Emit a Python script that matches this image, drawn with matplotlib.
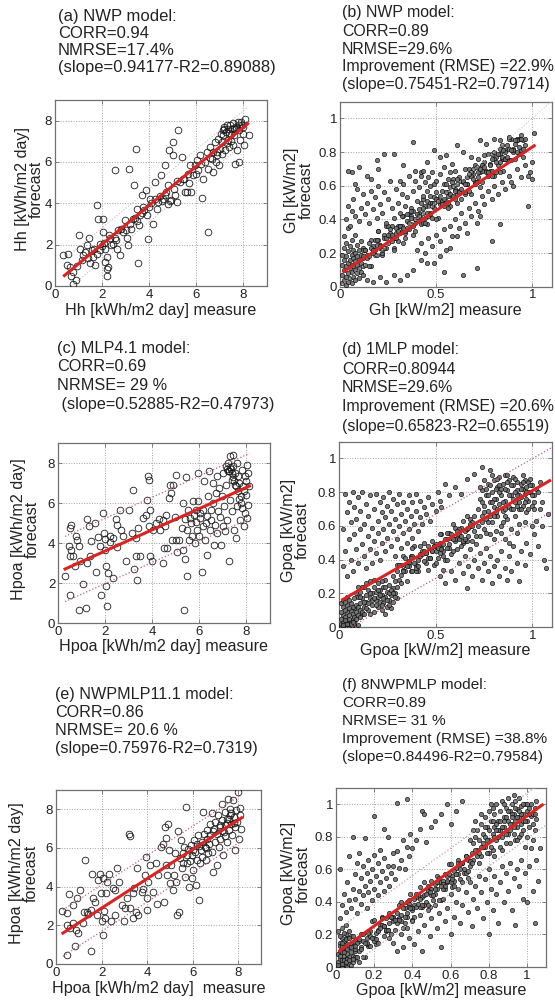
import numpy as np
import matplotlib.pyplot as plt
from matplotlib.ticker import FormatStrFormatter

plt.rcParams['font.family'] = ['Liberation Sans', 'DejaVu Sans']

# ----------------------------
# Data
# ----------------------------

# (a) NWP model, daily horizontal irradiation (measure, forecast) [kWh/m2 day]
a_pts = [(0.35,1.48),(0.57,1.56),(0.5,1.0),(0.64,0.92),(0.7,0.5),(0.78,0.1),(0.9,0.27),(0.78,0.68),
         (1.04,2.48),(1.06,1.8),(1.13,1.24),(1.28,1.65),(1.35,1.97),(1.46,2.32),(1.56,1.73),(1.63,1.4),
         (1.7,1.0),(1.77,3.9),(1.84,3.26),(2.03,3.26),(1.91,2.05),(2.06,2.6),(2.13,1.8),(2.2,1.4),
         (2.13,1.16),(2.2,0.84),(2.23,0.5),(2.27,0.92),(2.34,2.3),(2.4,1.97),(2.55,5.6),(2.55,2.3),
         (2.62,1.8),(2.77,1.48),(2.7,2.7),(2.9,2.6),(2.98,3.18),(3.05,2.3),(3.12,1.97),(3.16,5.68),
         (3.22,2.77),(3.3,3.26),(3.36,4.87),(3.45,6.61),(3.48,3.74),(3.55,1.11),(3.59,2.94),(3.62,3.42),
         (3.69,4.39),(3.76,3.82),(3.87,4.63),(3.93,3.42),(3.97,2.29),(4.04,4.23),(4.18,3.02),(4.26,5.03),
         (4.33,3.74),(4.4,4.06),(4.5,5.35),(4.61,4.23),(4.68,5.84),(4.72,4.55),(4.79,4.87),(4.82,3.98),
         (4.87,6.56),(4.92,4.15),(5.0,6.32),(5.04,6.97),(5.11,4.39),(5.18,4.06),(5.22,7.53),(5.32,5.03),
         (5.39,6.24),(5.46,5.19),(5.53,4.55),(5.6,4.55),(5.67,5.43),(5.74,5.84),(5.8,4.55),(5.89,5.35),
         (5.96,5.84),(6.03,6.08),(6.1,5.6),(6.17,6.32),(6.27,4.26),(6.31,5.19),(6.38,6.0),(6.45,6.48),
         (6.5,2.6),(6.52,5.68),(6.6,6.73),(6.67,6.16),(6.71,5.52),(6.74,6.48),(6.81,6.97),(6.85,6.0),
         (6.91,6.32),(6.95,7.13),(6.99,5.84),(7.02,6.65),(7.06,7.37),(7.09,6.97),(7.13,7.53),(7.16,7.29),
         (7.19,7.69),(7.23,6.56),(7.28,7.45),(7.3,7.77),(7.35,7.05),(7.38,7.61),(7.42,6.73),(7.45,7.77),
         (7.48,7.37),(7.52,7.61),(7.56,6.81),(7.59,7.9),(7.63,7.29),(7.66,5.92),(7.7,7.69),(7.73,6.56),
         (7.77,7.94),(7.82,7.53),(7.84,6.0),(7.87,7.05),(7.91,7.94),(7.94,7.77),(7.99,7.37),(8.04,6.81),
         (8.09,8.1),(8.27,7.29),(1.5,1.1),(1.9,1.75),(2.45,2.05),(2.6,2.25),(2.8,2.75),(3.0,2.7),
         (3.2,3.0),(3.4,3.3),(3.5,3.15),(3.7,3.55),(3.8,3.7),(4.0,3.8),(4.1,4.0),(4.25,4.2),(4.45,4.35),
         (4.55,4.1),(4.7,4.4),(4.9,4.1),(5.05,4.7),(5.2,5.1),(5.5,5.2),(5.7,5.0),(6.0,5.4),(6.2,5.9),
         (6.6,6.2),(6.9,6.5),(7.1,6.4),(7.3,6.9),(7.5,7.0),(7.7,7.6),(7.85,7.8),(8.0,7.7),(7.4,7.4),
         (7.2,7.6),(7.6,7.65),(0.95,0.95),(1.2,1.5),(1.4,1.35),(1.65,1.8),(1.8,1.55),(2.0,1.95),
         (2.1,2.1),(2.3,2.45)]

# (b) NWP model, hourly Gh [kW/m2], values in hundredths
b_pts = [(1,2),(1,7),(1,13),(1,19),(2,4),(2,10),(2,16),(2,23),(2,30),(3,1),(3,6),(3,12),(3,18),(3,26),
         (4,3),(4,8),(4,14),(4,21),(4,35),(5,5),(5,11),(5,16),(5,24),(6,2),(6,9),(6,13),(6,19),(6,28),
         (7,6),(7,12),(7,17),(7,22),(8,4),(8,10),(8,15),(8,20),(8,31),(9,8),(9,13),(9,18),(9,25),(10,5),
         (10,11),(10,16),(10,22),(11,9),(11,14),(11,19),(11,27),(12,7),(12,12),(12,17),(12,23),
         (13,13),(13,22),(14,19),(16,28),(16,12),(17,24),(18,28),(18,19),(20,33),(21,23),(21,25),(22,19),
         (23,31),(24,36),(24,23),(26,30),(27,27),(27,36),(28,23),(30,36),(30,27),(31,36),(32,33),(33,42),
         (33,26),(35,39),(36,43),(36,34),(37,47),(38,37),(39,40),(39,33),(41,46),(42,50),(42,37),(43,44),
         (44,41),(45,51),(45,37),(47,50),(48,41),(48,50),(49,47),(50,56),(51,41),(51,52),(53,57),(54,48),
         (54,61),(55,51),(56,54),(57,48),(57,59),(59,64),(60,52),(60,58),(61,55),(62,65),(63,52),(63,63),
         (65,55),(66,65),(66,61),(67,70),(68,55),(69,67),(69,70),(71,62),(72,76),(72,65),(73,68),(74,62),
         (75,74),(75,78),(77,66),(78,73),(78,69),(79,79),(80,66),(81,77),(81,68),(83,79),(84,76),(84,84),
         (85,69),(86,81),(87,84),(87,75),(89,88),(90,80),(90,82),(91,76),(92,87),(93,88),(93,79),(95,87),
         (96,84),
         (12,22),(15,12),(15,26),(17,20),(19,25),(19,19),(20,33),(22,20),(23,29),(25,36),(25,26),(26,34),
         (28,22),(29,32),(29,35),(31,32),(32,42),(34,32),(34,29),(35,43),(37,42),(38,31),(38,45),(40,39),
         (41,43),(43,38),(43,52),(44,38),(46,48),(47,54),(47,44),(49,53),(50,40),(52,51),(52,54),(53,51),
         (55,61),(56,50),(56,47),(58,62),(59,60),(61,50),(61,64),(62,57),(64,62),(65,56),(65,70),(67,57),
         (68,66),(70,72),(70,62),(71,71),(73,59),(74,69),(74,72),(76,69),(77,79),(79,69),(79,66),(80,80),
         (82,79),(83,68),(83,82),(85,76),(86,80),(88,75),(88,88),(89,75),(91,85),(92,88),(92,80),(94,88),
         (95,77),
         (4,69),(6,68),(10,71),(8,61),(14,66),(16,64),(19,75),(20,70),(23,79),(28,79),(31,63),(33,72),
         (38,86),(39,69),(42,68),(43,69),(45,74),(49,81),(49,61),(52,77),(55,78),(57,68),(61,84),(64,80),
         (68,77),(73,87),(76,85),(80,88),(83,87),(88,89),(92,87),(94,90),(101,91),(99,68),(100,64),
         (98,48),(89,62),(83,37),(79,27),(71,11),(64,7),(54,9),(61,30),(66,32),(71,38),(73,42),(57,23),
         (52,18),(49,14),(45,14),(42,16),(38,10),(35,7),(31,4),(28,7),(24,3),(21,6),(17,3),(14,4),
         (3,40),(4,48),(5,36),(6,45),(7,52),(8,42),(9,58),(10,39),(11,47),(12,55),(13,43),(14,50),(15,38),
         (16,57),(17,46),(18,53),(19,41),(20,60),(21,49),(22,44),(23,56),(24,38),(25,52),(26,63),(27,47),
         (28,41),(29,58),(30,50),(31,44),(32,55),(33,61),(34,48),(35,53),(36,66),(37,45),(38,57),(39,63),
         (40,51),(41,59),(42,66),(43,54),(44,62),(45,57),(46,65),(47,60),(48,68),(50,63),(52,67),(54,71),
         (56,64),(58,73),(60,69),(40,22),(42,26),(44,20),(46,29),(48,24),(50,31),(52,27),(54,34),(55,22),
         (57,36),(58,30),(60,40),(62,35),(63,44),(65,38),(67,47),(68,42),(70,50),(72,45),(74,54),(75,49),
         (77,57),(79,52),(80,60),(82,55),(84,62),(86,58),(88,66),(90,60),(92,70),(94,65),(96,72),(98,66),
         (100,74)]
# dark core of the (b) cloud
b_core = [(12,18),(14,17),(16,23),(18,22),(20,28),(22,22),(24,29),(26,32),(28,29),(30,33),(32,36),
          (34,33),(36,38),(38,36),(40,43),(42,41),(44,48),(46,42),(48,48),(50,52),(52,49),(54,52),
          (56,56),(58,53),(60,57),(62,56),(64,63),(66,61),(68,68),(70,61),(72,68),(74,72),(76,68),
          (78,72),(80,76),(82,72),(84,77),(86,76),(88,82),(90,81),(92,87),(94,81),(96,88),
          (13,22),(15,18),(17,22),(19,28),(21,24),(23,23),(25,31),(27,31),(29,29),(31,36),(33,35),
          (35,35),(37,41),(39,38),(41,42),(43,47),(45,44),(47,43),(49,50),(51,51),(53,49),(55,56),
          (57,55),(59,54),(61,61),(63,58),(65,61),(67,67),(69,64),(71,62),(73,70),(75,71),(77,68),
          (79,76),(81,74),(83,74),(85,81),(87,77),(89,81),(91,87),(93,83),(95,82)]

# (c) MLP4.1 model, daily Hpoa [kWh/m2 day]
c_pts = [(0.28,2.37),(0.5,3.33),(0.47,3.83),(0.54,4.92),(0.5,4.75),(0.57,3.63),(0.64,3.33),(0.53,1.42),
         (0.71,2.83),(0.78,4.33),(0.81,4.17),(0.9,3.83),(0.9,0.67),(0.92,3.08),(1.07,1.97),(1.18,0.75),
         (1.24,3.0),(1.24,5.2),(1.32,4.83),(1.35,3.33),(1.42,4.08),(1.56,5.0),(1.63,2.53),(1.7,4.3),
         (1.78,3.83),(1.85,1.38),(1.92,5.5),(1.95,4.5),(1.99,4.2),(1.99,3.67),(2.06,2.83),(2.06,1.83),
         (2.09,0.83),(2.13,2.5),(2.2,4.33),(2.23,4.03),(2.32,4.25),(2.34,2.25),(2.46,5.2),(2.51,4.92),
         (2.51,3.8),(2.63,5.67),(2.7,4.67),(2.77,4.33),(2.91,3.08),(3.03,5.67),(3.13,4.5),(3.2,6.67),
         (3.22,2.7),(3.31,3.33),(3.34,4.25),(3.37,2.17),(3.41,4.75),(3.48,3.37),(3.62,5.25),(3.74,5.42),
         (3.79,6.17),(3.84,7.33),(3.88,7.17),(3.88,4.83),(3.93,5.67),(3.93,3.33),(3.98,3.08),(4.05,4.67),
         (4.16,5.0),(4.3,5.2),(4.36,4.67),(4.45,5.17),(4.47,3.0),(4.5,3.75),(4.55,4.83),(4.59,5.42),
         (4.65,3.75),(4.73,6.25),(4.76,6.92),(4.79,6.5),(4.83,4.17),(4.9,6.92),(4.97,5.3),(5.01,7.42),
         (5.04,4.17),(5.07,3.53),(5.16,4.17),(5.26,4.75),(5.3,3.63),(5.33,6.0),(5.35,0.67),(5.4,3.2),
         (5.4,5.2),(5.44,7.3),(5.47,2.33),(5.5,4.67),(5.54,5.67),(5.58,4.17),(5.61,5.25),(5.68,5.0),
         (5.72,4.33),(5.75,6.08),(5.78,5.42),(5.82,4.0),(5.87,5.03),(5.89,5.67),(5.92,4.67),(5.97,6.08),
         (5.97,7.5),(6.01,4.33),(6.04,5.25),(6.06,5.5),(6.11,2.53),(6.15,4.83),(6.18,5.67),(6.21,7.08),
         (6.25,4.17),(6.29,5.0),(6.32,3.42),(6.35,5.33),(6.39,6.33),(6.43,7.58),(6.46,4.67),(6.49,5.67),
         (6.53,5.17),(6.58,7.0),(6.6,6.0),(6.63,3.92),(6.68,4.92),(6.72,6.5),(6.75,7.33),(6.78,4.5),
         (6.82,5.58),(6.86,6.75),(6.89,5.3),(6.92,3.92),(6.96,6.33),(7.0,4.83),(7.03,7.5),(7.06,5.83),
         (7.1,4.58),(7.14,7.83),(7.17,6.92),(7.2,5.17),(7.24,8.0),(7.26,3.08),(7.29,7.58),(7.32,6.17),
         (7.34,8.33),(7.39,7.17),(7.41,5.58),(7.43,7.83),(7.46,8.42),(7.49,4.67),(7.53,7.5),(7.57,6.83),
         (7.57,4.25),(7.6,8.0),(7.63,5.83),(7.67,7.33),(7.71,7.0),(7.74,5.17),(7.77,6.33),(7.81,7.67),
         (7.85,5.75),(7.88,6.83),(7.91,4.83),(7.95,7.33),(7.97,5.5),(7.99,6.42),(8.03,7.92),(8.05,5.25),
         (8.1,7.5),(8.1,5.92),(8.14,6.83),(7.2,7.7),(7.3,7.8),(7.25,7.6),(7.35,7.7),(7.4,7.5),(7.45,7.3),
         (7.5,7.1),(7.55,6.9),(7.65,6.6),(7.7,6.2),(7.8,6.0),(7.9,6.6),(8.0,7.1)]

# (d) 1MLP model, hourly Gpoa [kW/m2], values in hundredths
d_pts = [(0,0),(1,0),(2,0),(3,0),(4,0),(5,0),(6,1),(7,0),(8,1),(9,0),(10,1),(1,2),(2,3),(3,2),(4,4),
         (5,2),(6,3),(7,5),(1,5),(2,7),(3,6),(4,9),(5,7),(6,10),(7,8),(8,11),(1,9),(2,12),(3,10),(4,13),
         (5,11),(6,14),(7,12),(8,6),(9,9),(10,7),(1,14),(2,16),(3,15),(4,18),(5,16),(9,13),(10,12),(11,10),
         (12,8),
         (11,14),(11,21),(12,9),(12,17),(13,24),(13,12),(14,19),(14,15),(15,10),(15,22),(16,17),(16,27),
         (17,13),(17,20),(18,24),(18,9),(19,16),(19,21),(20,12),(20,18),(20,26),(21,15),(21,22),(22,10),
         (22,19),(23,24),(23,14),(24,18),(24,28),(25,12),(25,21),(26,16),(26,25),(27,19),(27,11),(28,23),
         (28,15),(29,20),(29,27),(30,17),(30,24),(12,24),(14,26),(16,8),(18,28),(22,27),(24,8),(26,20),
         (28,30),(10,18),(10,24),(9,20),(8,17),
         (31,28),(32,37),(33,34),(33,42),(35,27),(36,39),(37,42),(37,33),(39,48),(40,37),(41,40),(41,33),
         (43,45),(44,50),(45,38),(45,44),(47,41),(48,51),(49,37),(49,48),(51,41),(52,50),(53,47),(53,55),
         (55,40),(56,52),(57,56),(57,47),(59,61),(60,51),(61,53),(61,46),(63,59),(64,63),(65,51),(65,57),
         (67,54),(68,64),(69,51),(69,62),(71,54),
         (30,37),(32,26),(34,41),(34,33),(36,38),(38,33),(38,47),(40,33),(42,43),(42,48),(44,39),(46,48),
         (46,34),(48,45),(50,49),(50,45),(52,55),(54,45),(54,42),(56,56),(58,55),(58,43),(60,59),(62,52),
         (62,55),(64,50),(66,66),(66,51),(68,60),(70,66),
         (72,70),(72,60),(73,76),(73,54),(74,66),(74,81),(75,72),(75,58),(76,78),(76,64),(77,85),(77,69),
         (78,74),(78,55),(79,80),(79,62),(80,87),(80,71),(81,76),(81,57),(82,83),(82,66),(83,89),(83,73),
         (84,78),(84,60),(85,85),(85,69),(86,90),(86,75),(86,52),(87,81),(87,64),(88,87),(88,71),(89,78),
         (89,58),(90,84),(90,89),(91,74),(91,66),(92,81),(92,86),(93,70),(93,61),(94,85),(94,77),(95,82),
         (95,72),(96,87),(96,79),(97,83),(97,68),(98,86),(98,75),(99,80),(100,84),(100,72),(101,78),(102,82),
         (73,83),(75,87),(77,62),(79,90),(81,68),(83,80),(85,62),(87,90),(89,70),(91,88),(93,78),(95,90),
         (97,76),(99,88),(101,70),(103,80),(104,86),(105,74),(76,56),(80,52),(84,56),(88,50),(92,56),
         (96,62),(100,60),(78,84),(82,88),(86,82),(90,76),(94,70),(98,80),(74,62),(80,66),(86,66),(92,72),
         (2,36),(2,58),(3,45),(3,79),(4,68),(4,30),(5,52),(5,74),(6,40),(6,62),(7,80),(7,33),(8,55),(8,71),
         (9,46),(9,64),(10,77),(10,38),(11,58),(11,69),(12,49),(12,80),(13,42),(13,61),(14,73),(14,35),
         (15,54),(15,66),(16,78),(16,46),(17,59),(17,38),(18,70),(18,51),(19,79),(19,44),(20,63),(20,56),
         (21,74),(21,40),(22,68),(22,50),(23,58),(23,77),(24,45),(24,65),(25,72),(25,53),(26,80),(26,61),
         (27,48),(27,69),(28,57),(28,76),(29,64),(29,42),(30,73),(30,52),(31,60),(31,79),(32,67),(32,47),
         (33,74),(33,56),(34,63),(35,70),(35,50),(36,78),(36,58),(37,66),(38,74),(38,53),(39,61),(40,69),
         (40,79),(41,57),(42,65),(42,75),(43,61),(44,71),(45,67),(46,77),(47,63),(48,73),(50,69),(51,80),
         (52,75),(53,71),(55,85),(57,78),(60,83),(63,79),(66,88),(70,91),(74,95),(78,93),
         (50,38),(52,30),(54,34),(55,26),(56,40),(58,33),(59,45),(60,28),(62,38),(63,48),(64,32),(65,42),
         (66,23),(67,36),(68,46),(69,30),(70,40),(71,49),(72,35),(73,44),(74,28),(75,38),(76,47),(77,33),
         (78,42),(79,26),(80,36),(82,40),(83,30),(84,45),(86,35),(87,28),(88,42),(89,33),(90,48),(92,38),
         (93,27),(94,45),(96,37),(97,50),(99,43),(101,55),(103,48),(105,60),(106,40),(107,35),(108,67),
         (104,70),(102,63)]
# dark core of the (d) cloud
d_core = [(30,33),(32,31),(34,37),(36,36),(38,42),(40,35),(42,42),(44,45),(46,41),(48,45),(50,48),
          (52,44),(54,49),(56,47),(58,53),(60,52),(62,58),(64,51),(66,58),(68,61),(70,57),
          (31,37),(33,33),(35,36),(37,41),(39,38),(41,36),(43,43),(45,44),(47,41),(49,48),(51,47),
          (53,46),(55,52),(57,49),(59,52),(61,57),(63,54),(65,52),(67,59),(69,60),
          (2,1),(4,2),(6,2),(8,3),(3,4),(5,5),(7,3),(9,5),(11,6),(13,8),(15,14),(17,16),(19,13),(21,19),
          (23,17),(25,16),(27,22),(29,18),(14,11),(16,20),(18,17),(20,22),(22,13),(24,24),(26,13),
          (28,20),(11,18),(13,15),
          (74,74),(76,82),(78,66),(80,76),(82,70),(84,82),(86,70),(88,78),(90,70),(92,78),(94,82),
          (96,74),(98,70),(100,78),(75,68),(79,74),(83,84),(87,86),(91,80),(95,86),(99,84),(77,78),
          (81,82),(85,74),(89,84),(93,74),(97,80),(101,74)]

# (e) NWPMLP11.1 model, daily Hpoa [kWh/m2 day]
e_pts = [(0.25,2.75),(0.47,2.63),(0.47,2.03),(0.5,0.48),(0.58,3.6),(0.61,1.85),(0.73,2.11),(0.76,3.06),
         (0.83,0.91),(0.88,1.77),(0.94,3.4),(0.98,1.6),(1.05,3.83),(1.17,2.11),(1.23,2.71),(1.27,5.37),
         (1.35,2.71),(1.42,2.58),(1.52,2.8),(1.54,0.65),(1.56,4.64),(1.64,3.4),(1.71,3.23),(1.78,2.54),
         (1.86,4.34),(1.93,4.65),(1.96,3.66),(2.0,2.2),(2.05,4.43),(2.08,1.51),(2.11,2.75),(2.15,2.37),
         (2.19,3.66),(2.25,4.26),(2.34,4.64),(2.4,2.2),(2.51,3.91),(2.59,2.54),(2.59,3.83),(2.69,4.94),
         (2.78,4.26),(2.88,3.06),(2.98,2.2),(3.03,2.88),(3.1,3.4),(3.22,6.75),(3.25,6.63),(3.27,2.88),
         (3.36,3.66),(3.39,2.37),(3.42,3.91),(3.51,2.68),(3.57,4.94),(3.61,2.54),(3.76,3.74),(3.83,3.88),
         (3.9,4.6),(3.95,5.55),(3.98,3.4),(4.01,2.8),(4.05,4.26),(4.12,5.12),(4.27,3.74),(4.39,5.25),
         (4.44,3.09),(4.49,4.6),(4.63,6.06),(4.71,6.23),(4.74,3.23),(4.78,7.09),(4.82,5.12),(4.85,6.52),
         (4.88,4.6),(4.93,7.26),(4.97,5.89),(5.0,4.17),(5.07,5.12),(5.12,3.83),(5.18,4.6),(5.22,5.72),
         (5.26,4.26),(5.32,2.54),(5.37,6.87),(5.41,2.71),(5.44,5.46),(5.47,6.4),(5.51,4.94),(5.56,5.72),
         (5.58,5.25),(5.61,6.06),(5.66,4.52),(5.69,8.12),(5.73,5.63),(5.76,5.2),(5.8,5.97),(5.85,4.0),
         (5.88,5.32),(5.91,6.15),(5.95,4.43),(5.98,5.63),(6.02,4.86),(6.05,6.4),(6.1,5.8),(6.14,4.09),
         (6.17,5.37),(6.2,6.23),(6.24,6.66),(6.29,3.31),(6.32,5.2),(6.35,5.89),(6.39,6.32),(6.43,5.55),
         (6.46,7.86),(6.49,6.75),(6.54,6.06),(6.58,5.37),(6.61,6.49),(6.64,6.92),(6.68,5.72),(6.73,6.23),
         (6.75,7.26),(6.78,6.66),(6.83,7.79),(6.87,5.8),(6.9,4.77),(6.93,7.0),(6.97,6.32),(7.0,7.35),
         (7.05,5.12),(7.08,6.75),(7.12,7.69),(7.16,6.06),(7.19,7.09),(7.22,6.49),(7.27,8.29),(7.3,7.43),
         (7.34,5.63),(7.37,6.83),(7.41,7.86),(7.44,7.18),(7.49,6.32),(7.51,7.52),(7.56,8.55),(7.59,6.92),
         (7.63,7.69),(7.66,8.03),(7.7,7.26),(7.73,6.66),(7.78,8.46),(7.81,7.6),(7.85,7.09),(7.88,5.89),
         (7.92,7.95),(7.95,7.35),(8.0,8.89),(8.03,6.44),(8.07,8.09),(8.1,7.69),(8.14,7.0),(7.2,7.2),
         (7.3,6.9),(7.5,7.3),(7.6,7.5),(7.7,7.8),(7.8,7.3),(7.4,6.6),(6.9,6.9),(6.6,6.0),(6.3,6.1),(6.0,5.9)]

# (f) 8NWPMLP model, hourly Gpoa [kW/m2], values in hundredths
f_pts = [(1,0),(2,1),(3,0),(4,2),(5,1),(6,0),(7,2),(8,1),(9,3),(1,3),(2,5),(3,4),(4,7),(5,5),(6,8),(7,6),
         (8,9),(9,7),(10,10),(1,8),(2,10),(3,9),(4,12),(5,11),(6,14),(7,12),(8,15),(9,13),(10,16),(2,15),
         (3,18),(4,16),(5,20),(6,18),(7,22),(8,19),(1,22),(3,24),(5,26),(2,13),(4,4),(6,5),(3,13),(11,5),
         (12,3),(10,6),
         (11,6),(12,16),(13,12),(13,20),(15,6),(16,18),(17,22),(17,13),(19,28),(20,18),(21,21),(21,14),
         (23,26),(24,31),(25,19),(25,25),(27,23),(28,33),(29,20),(29,31),(31,23),(32,33),(33,30),(33,38),
         (35,24),(36,36),(37,40),(37,31),(39,45),(40,35),(41,38),(41,31),(43,44),(44,49),(45,37),(45,43),
         (47,40),(48,50),(49,37),(49,48),(51,41),(52,51),(53,48),(53,56),(55,41),(56,53),(57,57),(57,48),
         (59,63),(60,53),(61,56),(61,49),(63,61),(64,66),(65,54),(65,60),(67,58),(68,68),(69,55),(69,66),
         (12,17),(14,6),(14,20),(16,14),(18,19),(18,13),(20,29),(22,15),(22,23),(24,30),(26,22),(26,30),
         (28,18),(30,28),(30,31),(32,29),(34,40),(34,28),(36,27),(38,41),(38,39),(40,29),(42,45),(42,37),
         (44,42),(46,38),(46,52),(48,38),(50,48),(50,53),(52,45),(54,55),(54,41),(56,51),(58,56),(58,52),
         (60,63),(62,53),(62,50),(64,64),(66,64),(66,52),(68,68),(70,62),
         (71,70),(72,76),(72,66),(73,80),(74,72),(74,84),(75,78),(76,68),(76,88),(77,82),(78,74),(78,92),
         (79,86),(80,78),(80,96),(81,90),(82,82),(82,72),(83,94),(83,86),(84,78),(84,100),(85,90),(86,84),
         (86,96),(87,80),(87,102),(88,92),(88,86),(89,98),(89,76),(90,90),(90,104),(91,84),(91,96),(92,100),
         (92,88),(93,82),(93,94),(94,102),(94,90),(95,86),(95,97),(96,92),(96,80),(97,99),(97,88),(98,94),
         (98,84),(99,100),(100,90),(100,96),(101,86),(102,93),(103,88),(104,98),(105,91),
         (70,78),(72,84),(74,68),(76,94),(78,80),(80,70),(82,98),(84,88),(86,74),(88,100),(90,82),(92,94),
         (94,78),(96,104),(98,90),(100,80),(102,100),(104,84),(73,90),(77,74),(81,100),(85,80),(89,92),
         (93,106),(97,82),(101,94),(105,102),(75,64),(79,70),(83,68),(87,72),(91,76),(95,78),(99,74),
         (103,78),
         (2,30),(2,60),(3,38),(4,45),(5,34),(6,52),(7,41),(7,68),(8,36),(9,48),(9,80),(10,42),(10,57),
         (11,33),(11,64),(12,47),(12,70),(13,39),(13,55),(14,62),(14,44),(15,50),(15,79),(16,36),(16,58),
         (17,46),(17,66),(18,53),(19,41),(19,60),(20,69),(20,48),(21,56),(22,44),(22,64),(23,52),(23,72),
         (24,59),(25,47),(25,67),(26,55),(27,62),(27,80),(28,50),(29,58),(30,70),(30,62),(31,54),(32,71),
         (33,61),(34,66),(35,78),(36,60),(37,74),(38,68),(39,82),(40,73),(42,78),(44,85),(45,96),(47,77),
         (50,86),(52,90),(55,94),(58,100),(60,88),(63,96),(66,102),(25,85),(20,93),(32,101),(37,103),(46,94),
         (30,15),(32,10),(34,20),(35,12),(37,24),(38,18),(40,28),(41,14),(43,22),(44,32),(45,10),(46,26),
         (48,35),(49,19),(50,30),(52,38),(53,24),(54,33),(55,12),(56,42),(57,28),(58,36),(60,20),(60,45),
         (62,31),(63,40),(64,48),(65,27),(66,38),(68,46),(69,34),(70,52),(71,25),(72,42),(73,50),(74,36),
         (75,56),(76,46),(77,30),(78,54),(79,40),(80,20),(80,60),(81,48),(82,35),(83,56),(84,45),(85,27),
         (86,52),(87,62),(88,40),(89,58),(90,47),(91,64),(92,35),(93,55),(94,26),(95,60),(96,50),(97,66),
         (98,42),(99,58),(100,40),(101,62),(103,47),(104,27),(105,66),(107,73),(102,73),(106,53)]
# dark core of the (f) cloud
f_core = [(10,11),(12,10),(14,16),(16,15),(18,22),(20,16),(22,22),(24,26),(26,23),(28,27),(30,30),
          (32,27),(34,32),(36,31),(38,37),(40,36),(42,43),(44,37),(46,44),(48,47),(50,44),(52,48),
          (54,52),(56,48),(58,53),(60,52),(62,59),(64,57),(66,64),(68,58),(70,65),
          (11,15),(13,11),(15,15),(17,21),(19,18),(21,17),(23,24),(25,25),(27,23),(29,31),(31,29),
          (33,29),(35,36),(37,33),(39,36),(41,42),(43,39),(45,38),(47,45),(49,46),(51,44),(53,52),
          (55,50),(57,50),(59,57),(61,54),(63,57),(65,63),(67,60),(69,59),
          (71,64),(73,72),(75,70),(77,76),(79,78),(81,74),(83,80),(85,84),(87,86),(89,82),(91,88),
          (93,86),(95,92),(97,94),(99,90),(101,98),(103,94),(76,74),(80,84),(84,84),(88,90),(92,92),
          (96,96),(100,100),(104,94),(78,86),(82,90),(86,90),(90,96),(94,98),(98,100),
          (1,1),(3,2),(5,3),(7,4),(9,5),(2,7),(4,9),(6,11),(8,12),(10,13),(3,15),(5,17),(7,18),(9,19),
          (2,19),(4,21)]

# linear fits (slope from the panel text, intercept)
fit_slope = [0.94177, 0.75451, 0.52885, 0.65823, 0.75976, 0.84496]
fit_icpt = [0.13, 0.075, 2.54, 0.15, 1.37, 0.083]
fit_xspan = [(0.4, 8.2), (0.02, 1.01), (0.3, 8.15), (0.02, 1.09), (0.3, 8.15), (0.02, 1.08)]
bound_off = [0.8, 0.0, 1.63, 0.19, 1.2, 0.14]

titles = [
    ["(a) NWP model:", "CORR=0.94", "NMRSE=17.4%", "(slope=0.94177-R2=0.89088)"],
    ["(b) NWP model:", "CORR=0.89", "NRMSE=29.6%", "Improvement (RMSE) =22.9%",
     "(slope=0.75451-R2=0.79714)"],
    ["(c) MLP4.1 model:", "CORR=0.69", "NRMSE= 29 %", " (slope=0.52885-R2=0.47973)"],
    ["(d) 1MLP model:", "CORR=0.80944", "NRMSE=29.6%", "Improvement (RMSE) =20.6%",
     "(slope=0.65823-R2=0.65519)"],
    ["(e) NWPMLP11.1 model:", "CORR=0.86", "NRMSE= 20.6 %", "(slope=0.75976-R2=0.7319)"],
    ["(f) 8NWPMLP model:", "CORR=0.89", "NRMSE= 31 %", "Improvement (RMSE) =38.8%",
     "(slope=0.84496-R2=0.79584)"],
]
ylabels = ["Hh [kWh/m2 day]\nforecast", "Gh [kW/m2]\nforecast",
           "Hpoa [kWh/m2 day]\nforecast", "Gpoa [kW/m2]\nforecast",
           "Hpoa [kWh/m2 day]\nforecast", "Gpoa [kW/m2]\nforecast"]
xlabels = ["Hh [kWh/m2 day] measure", "Gh [kW/m2] measure",
           "Hpoa [kWh/m2 day] measure", "Gpoa [kW/m2] measure",
           "Hpoa [kWh/m2 day]  measure", "Gpoa [kW/m2] measure"]

# ----------------------------
# Layout (pixels in a 555x1001 canvas)
# ----------------------------
W, H = 555, 1001
boxes = [(55, 100, 266.5, 286), (340, 101.5, 551.5, 286.7),
         (58, 443, 269.5, 623), (339, 441.5, 551.6, 627),
         (56, 790, 261, 964), (336, 788, 546, 967)]
title_pos = [(58, 17, 16.7, 12.0), (342, 13, 18.0, 11.4),
             (57, 348, 18.7, 11.7), (342, 350, 19.0, 11.4),
             (55, 695, 17.7, 11.6), (342, 685, 18.0, 11.1)]
ylab_x = [29.5, 299, 25.5, 295.5, 24, 296]

all_pts = [a_pts, b_pts + b_core, c_pts, d_pts + d_core, e_pts, f_pts + f_core]

fig = plt.figure(figsize=(W / 100, H / 100), dpi=100)

for i in range(6):
    x0, y0, x1, y1 = boxes[i]
    ax = fig.add_axes([x0 / W, 1 - y1 / H, (x1 - x0) / W, (y1 - y0) / H])
    daily = i in (0, 2, 4)
    if daily:
        p = np.array(all_pts[i])
        ax.plot(p[:, 0], p[:, 1], 'o', mfc='none', mec='#1a1a1a', ms=4.8, mew=0.6, zorder=3)
        ax.set_xlim(0, 9)
        ax.set_ylim(0, 9)
        ax.set_xticks([0, 2, 4, 6, 8])
        ax.set_yticks([0, 2, 4, 6, 8])
    else:
        p = np.array(all_pts[i]) / 100.0
        ax.plot(p[:, 0], p[:, 1], 'o', mfc='#6e6e6e', mec='#0a0a0a', ms=3.1, mew=0.5,
                alpha=0.9, zorder=3)
        ax.set_xlim(0, 1.1)
        ax.set_ylim(0, 1.1)
        if i == 5:
            ax.set_xticks([0, 0.2, 0.4, 0.6, 0.8, 1])
        else:
            ax.set_xticks([0, 0.5, 1])
        ax.set_yticks([0, 0.2, 0.4, 0.6, 0.8, 1])
        ax.xaxis.set_major_formatter(FormatStrFormatter('%g'))
        ax.yaxis.set_major_formatter(FormatStrFormatter('%g'))

    # fit line and bounds
    xs = np.array(fit_xspan[i])
    yfit = fit_slope[i] * xs + fit_icpt[i]
    if i == 1:
        ax.plot([0, 1.1], [0, 1.1], ls=':', color='#c8c8c8', lw=0.8, zorder=4)
    elif i == 0:
        ax.plot(xs, yfit + bound_off[i], ls=':', color='#c0c0c0', lw=0.8, zorder=2)
        ax.plot(xs, yfit - bound_off[i], ls=':', color='#c0c0c0', lw=0.8, zorder=2)
    else:
        bx = np.array([xs[0], 1.1 if not daily else xs[1]])
        yb = fit_slope[i] * bx + fit_icpt[i]
        bcol = '#c0607a' if i != 5 else '#c89aa6'
        ax.plot(bx, yb + bound_off[i], ls=':', color=bcol, lw=0.9, zorder=4)
        ax.plot(bx, yb - bound_off[i], ls=':', color=bcol, lw=0.9, zorder=4)
    ax.plot(xs, yfit, '-', color='#dd2222', lw=2.2, zorder=5)

    ax.grid(True, ls=':', color='#a0a0a0', lw=0.7)
    ax.set_axisbelow(True)
    for s in ax.spines.values():
        s.set_color('#707070')
        s.set_linewidth(0.9)
    ax.tick_params(direction='in', length=3, width=0.6, color='#707070', labelsize=9.5,
                   labelcolor='#222222', pad=2, top=True, right=True)

    ax.set_ylabel(ylabels[i], fontsize=11.6, linespacing=0.95, va='center', color='#222222')
    ax.yaxis.set_label_coords((ylab_x[i] - x0) / (x1 - x0), 0.52)
    ax.set_xlabel(xlabels[i], fontsize=11.6, va='center', color='#222222')
    ax.xaxis.set_label_coords(0.5, -24.0 / (y1 - y0))

    # panel text above the axes
    tx, ty, dy, fs = title_pos[i]
    for k, line in enumerate(titles[i]):
        fig.text(tx / W, 1 - (ty + k * dy) / H, line, fontsize=fs, ha='left', va='center',
                 color='#222222')

plt.savefig('out.png', dpi=100)
